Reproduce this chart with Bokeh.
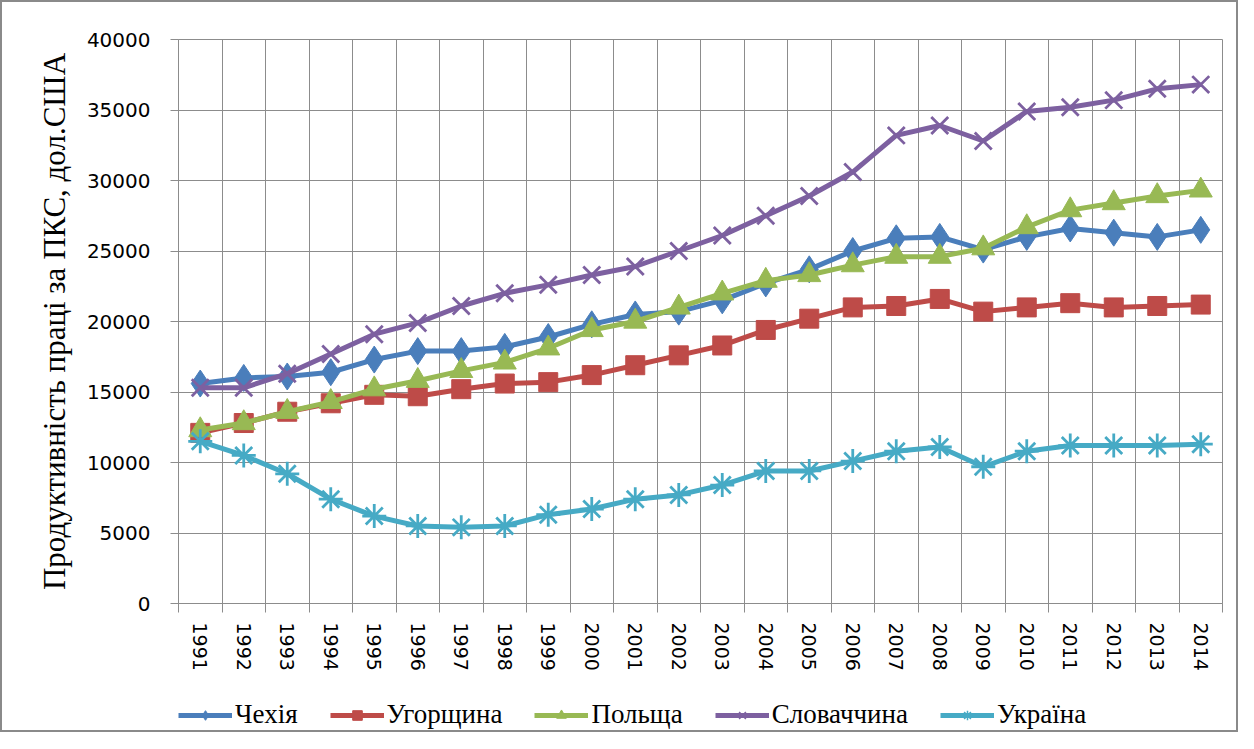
from bokeh.plotting import figure
from bokeh.models import FixedTicker, Range1d, Legend, LegendItem
from bokeh.layouts import column
from bokeh.embed import file_html
from bokeh.resources import INLINE

years = [1991, 1992, 1993, 1994, 1995, 1996, 1997, 1998, 1999, 2000, 2001, 2002,
         2003, 2004, 2005, 2006, 2007, 2008, 2009, 2010, 2011, 2012, 2013, 2014]

czech = [15600, 16000, 16100, 16400, 17300, 17900, 17900, 18200, 18900, 19800, 20500, 20700,
         21500, 22700, 23700, 25000, 25900, 26000, 25100, 26000, 26600, 26300, 26000, 26500]
hungary = [12100, 12800, 13600, 14200, 14800, 14700, 15200, 15600, 15700, 16200, 16900, 17600,
           18300, 19400, 20200, 21000, 21100, 21600, 20700, 21000, 21300, 21000, 21100, 21200]
poland = [12300, 12800, 13600, 14300, 15200, 15800, 16500, 17100, 18100, 19400, 20000, 21000,
          22000, 22900, 23300, 24000, 24600, 24600, 25200, 26700, 27900, 28400, 28900, 29300]
slovakia = [15300, 15300, 16300, 17700, 19100, 19900, 21100, 22000, 22600, 23300, 23900, 25000,
            26100, 27500, 28900, 30600, 33200, 33900, 32800, 34900, 35200, 35700, 36500, 36800]
ukraine = [11500, 10500, 9200, 7400, 6200, 5500, 5400, 5500, 6300, 6700, 7400, 7700,
           8400, 9400, 9400, 10100, 10800, 11100, 9700, 10800, 11200, 11200, 11200, 11300]

names = ["Чехія", "Угорщина", "Польща", "Словаччина", "Україна"]
y_ticks = [0, 5000, 10000, 15000, 20000, 25000, 30000, 35000, 40000]
y_title = "Продуктивність праці за ПКС, дол.США"

series = [czech, hungary, poland, slovakia, ukraine]
colors = ["#4A7EBB", "#BE4B48", "#98B954", "#7D60A0", "#46AAC5"]
markers = ["diamond", "square", "triangle", "x", "asterisk"]
msizes = [27, 19, 23, 24, 24]

GRID = "#8c8c8c"

p = figure(frame_width=1044, frame_height=564, output_backend="svg", toolbar_location=None,
           x_range=Range1d(years[0] - 0.5, years[-1] + 0.5), y_range=Range1d(0, 40000),
           min_border_left=176, min_border_right=14, min_border_top=37, min_border_bottom=0)
p.outline_line_color = GRID
p.background_fill_color = "white"
p.border_fill_color = "white"

bounds = [y - 0.5 for y in years] + [years[-1] + 0.5]

p.xaxis.ticker = FixedTicker(ticks=years, minor_ticks=bounds)
p.xgrid.ticker = FixedTicker(ticks=bounds)
p.xgrid.grid_line_color = GRID
p.xaxis.major_tick_line_color = None
p.xaxis.major_tick_out = 9
p.xaxis.major_tick_in = 0
p.xaxis.minor_tick_line_color = GRID
p.xaxis.minor_tick_out = 9
p.xaxis.minor_tick_in = 0
p.xaxis.axis_line_color = GRID
p.xaxis.major_label_orientation = "vertical"
p.xaxis.major_label_standoff = 10
p.xaxis.major_label_text_font = "DejaVu Sans"
p.xaxis.major_label_text_font_size = "19px"
p.xaxis.major_label_text_color = "black"

p.yaxis.ticker = FixedTicker(ticks=y_ticks)
p.ygrid.ticker = FixedTicker(ticks=y_ticks)
p.ygrid.grid_line_color = GRID
p.yaxis.axis_line_color = GRID
p.yaxis.major_tick_line_color = GRID
p.yaxis.major_tick_out = 8
p.yaxis.major_tick_in = 0
p.yaxis.minor_tick_line_color = None
p.yaxis.major_label_standoff = 20
p.yaxis.major_label_text_font = "DejaVu Sans"
p.yaxis.major_label_text_font_size = "20px"
p.yaxis.major_label_text_color = "black"
p.yaxis.axis_label = y_title
p.yaxis.axis_label_text_font = "Liberation Serif"
p.yaxis.axis_label_text_font_size = "31px"
p.yaxis.axis_label_text_font_style = "normal"
p.yaxis.axis_label_text_color = "black"
p.yaxis.axis_label_standoff = 12

# legend strip below the chart (its frame is aligned with the chart's frame);
# the series are drawn here too, but outside its visible range, so only the legend shows
q = figure(width=1234, height=57, output_backend="svg", toolbar_location=None,
           x_range=Range1d(0, 1), y_range=Range1d(0, 1),
           x_axis_location=None, y_axis_location=None, min_border=0)
q.grid.visible = False
q.outline_line_color = None
q.background_fill_color = "white"
q.border_fill_color = "white"

items = []
for name, vals, c, m, s in zip(names, series, colors, markers, msizes):
    p.line(years, vals, line_color=c, line_width=5)
    if m in ("x", "asterisk"):
        p.scatter(years, vals, marker=m, size=s, line_color=c, line_width=2.8, fill_color=None)
        sr = q.scatter(years, vals, marker=m, size=s, line_color=c, line_width=1.5, fill_color=None)
    else:
        p.scatter(years, vals, marker=m, size=s, line_color=c, fill_color=c, line_width=1)
        sr = q.scatter(years, vals, marker=m, size=s, line_color=c, fill_color=c, line_width=1)
    lr = q.line(years, vals, line_color=c, line_width=5)
    items.append(LegendItem(label=name, renderers=[lr, sr]))

legend = Legend(items=items, orientation="horizontal", location=(0, 0),
                glyph_width=54, glyph_height=24, label_standoff=3, spacing=32,
                padding=0, margin=0, border_line_color=None, background_fill_alpha=0,
                label_text_font="Liberation Serif", label_text_font_size="27px",
                label_text_color="black", label_height=24)
q.add_layout(legend, "center")

layout = column(p, q, spacing=0, styles={"border": "2px solid #8a8a8a"})

open("out.html", "w").write(file_html(layout, INLINE))
